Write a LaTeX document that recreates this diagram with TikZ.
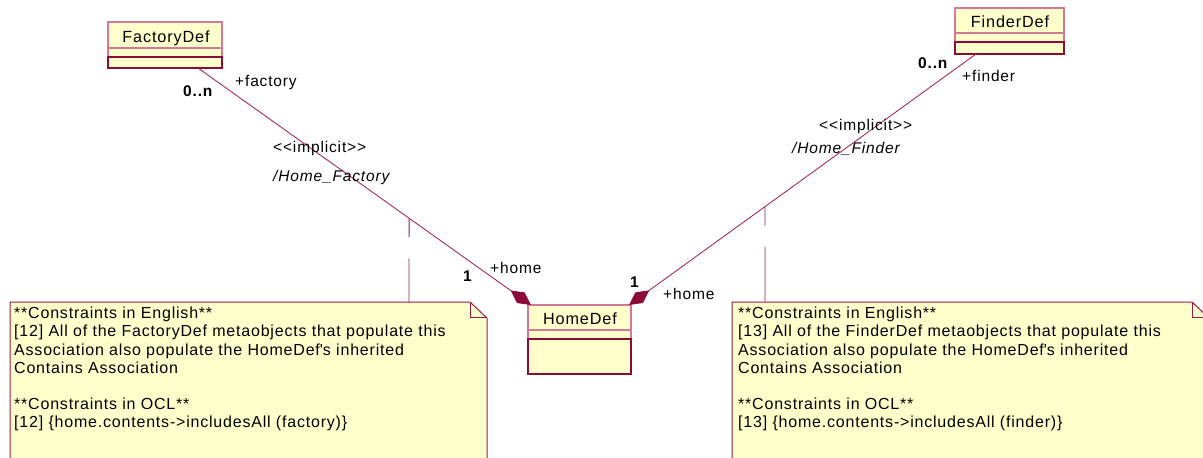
\documentclass[tikz,border=0pt]{standalone}
\usepackage{fontspec}
\setmainfont{Liberation Sans}[LetterSpace=5.5]
\newfontfamily\notefont{Liberation Sans}[LetterSpace=5]
\usetikzlibrary{arrows.meta,calc}
\definecolor{umlline}{HTML}{9E1A45}
\definecolor{umlpink}{HTML}{D27A95}
\definecolor{umlfill}{HTML}{FFFFCC}
\definecolor{umldark}{HTML}{8C0A38}
\tikzset{
  lbl/.style={inner sep=0pt, anchor=base west, font=\fontsize{15.5}{18}\selectfont},
  mult/.style={lbl, font=\fontsize{15.5}{18}\selectfont\bfseries},
  cname/.style={inner sep=0pt, anchor=base, font=\fontsize{16.2}{18}\selectfont},
  notetext/.style={inner sep=0pt, anchor=north west, align=left, font=\notefont\fontsize{16}{18.2}\selectfont},
  assoc/.style={draw=umlline, line width=0.8pt, -{Diamond[length=25pt,width=13pt,fill=umldark,color=umldark]}},
  notelink/.style={draw=umlline, line width=0.8pt, dash pattern=on 19pt off 21pt on 60pt off 10pt},
  noteshape/.style={draw=umlline, fill=umlfill, line width=1pt}
}
\begin{document}
\begin{tikzpicture}[x=1pt,y=-1pt]
\useasboundingbox (0,0) rectangle (1203,458);
\clip (0,0) rectangle (1203,458);
% notes
\draw[noteshape] (10,302) -- (470,302) -- (487,318) -- (487,470) -- (10,470) -- cycle;
\draw[umlline, line width=1pt] (470,302) -- (470,317) -- (487,317);
\draw[noteshape] (732,302) -- (1192,302) -- (1209,318) -- (1209,470) -- (732,470) -- cycle;
\draw[umlline, line width=1pt] (1192,302) -- (1192,317) -- (1209,317);
\coordinate (n1top) at (409,302);
\coordinate (n2top) at (765,302);
\node[notetext] (note1) at (14,307) {**Constraints in English**\\
{[}12] All of the FactoryDef metaobjects that populate this\\
Association also populate the HomeDef\textquotesingle s inherited\\
Contains Association\\[18.2pt]
**Constraints in OCL**\\
{[}12] \{home.contents->includesAll (factory)\}};
\node[notetext] (note2) at (738,307) {**Constraints in English**\\
{[}13] All of the FinderDef metaobjects that populate this\\
Association also populate the HomeDef\textquotesingle s inherited\\
Contains Association\\[18.2pt]
**Constraints in OCL**\\
{[}13] \{home.contents->includesAll (finder)\}};
% classes
\fill[umlfill] (108,22) rectangle (222,68);
\draw[umlpink, line width=1.2pt] (108,22) rectangle (222,68);
\draw[umlpink, line width=1.2pt] (108,48) -- (222,48);
\draw[umldark, line width=1.4pt] (108,57) -- (222,57) -- (222,68) -- (108,68) -- cycle;
\node[cname] (fac) at (166,42) {FactoryDef};
\fill[umlfill] (955,8) rectangle (1064,54);
\draw[umlpink, line width=1.2pt] (955,8) rectangle (1064,54);
\draw[umlpink, line width=1.2pt] (955,33) -- (1064,33);
\draw[umldark, line width=1.4pt] (955,42) -- (1064,42) -- (1064,54) -- (955,54) -- cycle;
\node[cname] (fin) at (1010,27) {FinderDef};
\fill[umlfill] (528,305) rectangle (631,374);
\draw[umlpink, line width=1.2pt] (528,305) rectangle (631,374);
\draw[umlpink, line width=1.2pt] (528,330) -- (631,330);
\draw[umldark, line width=1.4pt] (528,339) -- (631,339) -- (631,374) -- (528,374) -- cycle;
\node[cname] (home) at (580,324) {HomeDef};
% association end points
\coordinate (fs) at (198,68);
\coordinate (ft) at (531,305);
\coordinate (gs) at (976,54);
\coordinate (gt) at (629,305);
\draw[assoc] (fs) -- (ft);
\draw[assoc] (gs) -- (gt);
\coordinate (m1) at ($(fs)!0.634!(ft)$);
\coordinate (m2) at ($(gs)!0.608!(gt)$);
\draw[notelink] (m1) -- (n1top);
\draw[notelink] (m2) -- (n2top);
% labels
\node[lbl] (lfac) at (235,86) {+factory};
\node[mult] (mfac) at (183,96) {0..n};
\node[mult] (mfin) at (918,68) {0..n};
\node[lbl] (lfin) at (962,81) {+finder};
\node[lbl] (st1) at (273,152) {<{}<implicit>{}>};
\node[lbl, font=\fontsize{15.5}{18}\selectfont\itshape] (an1) at (273,181) {/Home\_Factory};
\node[lbl] (st2) at (819,130) {<{}<implicit>{}>};
\node[lbl, font=\fontsize{15.5}{18}\selectfont\itshape] (an2) at (792,153) {/Home\_Finder};
\node[mult] (one1) at (463,281) {1};
\node[lbl] (h1) at (490,273) {+home};
\node[mult] (one2) at (630,287) {1};
\node[lbl] (h2) at (663,299) {+home};
\end{tikzpicture}
\end{document}
